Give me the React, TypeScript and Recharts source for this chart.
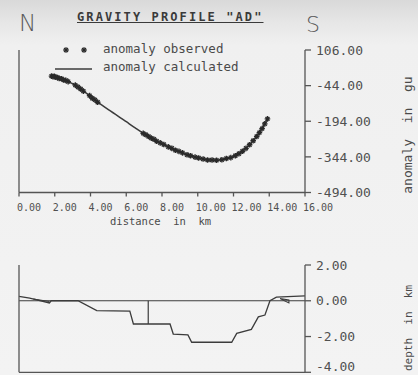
import React from 'react';
import { ComposedChart, Line, Scatter, XAxis, YAxis, ReferenceLine } from 'recharts';

const MONO = "'DejaVu Sans Mono', monospace";
const INK = '#3c3c3c';
const AX = '#555555';

const distanceTicks = [0, 2, 4, 6, 8, 10, 12, 14, 16];
const anomalyTicks = [106, -44, -194, -344, -494];
const depthTicks = [2, 0, -2, -4];

// calculated anomaly (gu) vs distance (km)
const calcKm = [1.8, 2.2, 2.6, 3.0, 3.4, 3.8, 4.2, 4.6, 5.0, 5.5, 6.0, 6.5, 7.0, 7.5, 8.0, 8.5, 9.0, 9.5, 10.0, 10.5, 11.0, 11.5, 12.0, 12.5, 13.0, 13.5, 13.95];
const calcGu = [-5, -12, -22, -36, -55, -78, -102, -124, -145, -170, -196, -222, -247, -269, -289, -307, -323, -337, -348, -356, -358, -354, -343, -320, -285, -236, -178];

// observed anomaly
const obsKm = [1.82, 1.9, 1.98, 2.06, 2.15, 2.25, 2.38, 2.5, 2.62, 2.75, 3.15, 3.3, 3.45, 3.6, 3.95, 4.1, 4.25, 4.4, 6.95, 7.1, 7.25, 7.4, 7.55, 7.7, 7.9, 8.1, 8.35, 8.55, 8.75, 8.95, 9.15, 9.4, 9.6, 9.85, 10.05, 10.3, 10.55, 10.8, 11.05, 11.35, 11.6, 11.85, 12.1, 12.3, 12.5, 12.7, 12.9, 13.1, 13.3, 13.45, 13.6, 13.75, 13.9];
const obsGu = [-4, -6, -5, -9, -10, -14, -15, -20, -22, -27, -42, -50, -58, -67, -86, -97, -104, -114, -245, -251, -258, -265, -270, -278, -285, -292, -302, -308, -316, -321, -327, -335, -339, -345, -349, -353, -357, -357, -358, -356, -351, -347, -339, -331, -320, -308, -293, -276, -258, -242, -225, -205, -184];

// model body base (depth km)
const baseKm = [0, 0.6, 1.7, 1.8, 3.3, 4.35, 6.2, 6.4, 8.45, 8.63, 9.45, 9.66, 11.9, 12.18, 13.0, 13.39, 13.76, 14.04, 14.4, 16];
const baseDepth = [0.25, 0.15, -0.12, 0, 0, -0.55, -0.58, -1.3, -1.3, -1.86, -1.91, -2.32, -2.32, -1.82, -1.6, -0.9, -0.8, 0, 0.2, 0.27];

const leftSliverKm = [0.8, 1.7];
const leftSliverDepth = [0.1, -0.04];
const rightSliverKm = [14.6, 15.1, 15.1, 14.6];
const rightSliverDepth = [0.12, 0.05, -0.12, 0.12];
const dividerKm = [7.23, 7.23];
const dividerDepth = [0, -1.3];

const zip = (xs: number[], ys: number[]) => xs.map((x, i) => ({ x, y: ys[i] }));
const calcData = zip(calcKm, calcGu);
const obsData = zip(obsKm, obsGu);
const baseData = zip(baseKm, baseDepth);
const leftSliver = zip(leftSliverKm, leftSliverDepth);
const rightSliver = zip(rightSliverKm, rightSliverDepth);
const divider = zip(dividerKm, dividerDepth);

const Star = (p: any) => {
  const { cx, cy } = p;
  const r = 2.8;
  return (
    <g stroke="#2a2a2a" strokeWidth={1.4}>
      <line x1={cx - r} y1={cy} x2={cx + r} y2={cy} />
      <line x1={cx} y1={cy - r} x2={cx} y2={cy + r} />
      <line x1={cx - r * 0.7} y1={cy - r * 0.7} x2={cx + r * 0.7} y2={cy + r * 0.7} />
      <line x1={cx - r * 0.7} y1={cy + r * 0.7} x2={cx + r * 0.7} y2={cy - r * 0.7} />
    </g>
  );
};

const XTick = (p: any) => (
  <text x={p.x - 2} y={p.y} dy="0.71em" textAnchor="start" fontFamily={MONO} fontSize={10} fill="#505050">
    {Number(p.payload.value).toFixed(2)}
  </text>
);

const YTick = (p: any) => (
  <text x={p.x} y={p.y} dy="0.36em" textAnchor="start" fontFamily={MONO} fontSize={13} fill="#505050">
    {Number(p.payload.value).toFixed(2)}
  </text>
);

// bottom tick at the very page edge is lifted slightly so it stays visible
const DepthTick = (p: any) => (
  <text
    x={p.x}
    y={p.y - (p.payload.value === -4 ? 6 : 0)}
    dy="0.36em"
    textAnchor="start"
    fontFamily={MONO}
    fontSize={13}
    fill="#505050"
  >
    {Number(p.payload.value).toFixed(2)}
  </text>
);

const txt = (extra: React.CSSProperties): React.CSSProperties => ({
  position: 'absolute',
  whiteSpace: 'pre',
  fontFamily: MONO,
  color: '#4a4a4a',
  lineHeight: 1,
  ...extra,
});

export default function App() {
  return (
    <div
      style={{
        position: 'absolute',
        left: 0,
        top: 0,
        width: 418,
        height: 375,
        overflow: 'hidden',
        background: 'linear-gradient(to bottom, #d9d9d9 0px, #e6e6e6 22px, #f0f0f0 45px, #f3f3f3 375px)',
      }}
    >
      <div style={{ position: 'absolute', left: 0, top: 0 }}>
        <ComposedChart width={418} height={230} margin={{ top: 50, right: 0, left: 18, bottom: 7.5 }}>
          <XAxis
            dataKey="x"
            type="number"
            domain={[0, 16]}
            ticks={distanceTicks}
            interval={0}
            tickSize={4}
            tickMargin={7}
            height={30}
            stroke={AX}
            strokeWidth={1.3}
            tick={<XTick />}
          />
          <YAxis
            yAxisId="l"
            orientation="left"
            width={1}
            dataKey="y"
            type="number"
            domain={[-494, 106]}
            allowDataOverflow
            ticks={anomalyTicks}
            interval={0}
            tick={false}
            tickSize={6}
            stroke={AX}
            strokeWidth={1.3}
          />
          <YAxis
            yAxisId="r"
            orientation="right"
            width={113}
            dataKey="y"
            type="number"
            domain={[-494, 106]}
            allowDataOverflow
            ticks={anomalyTicks}
            interval={0}
            tickSize={6}
            tickMargin={5}
            stroke={AX}
            strokeWidth={1.3}
            tick={<YTick />}
          />
          <Line
            yAxisId="l"
            data={calcData}
            dataKey="y"
            type="monotone"
            stroke={INK}
            strokeWidth={1.5}
            dot={false}
            isAnimationActive={false}
          />
          <Scatter yAxisId="r" data={obsData} dataKey="y" shape={Star} isAnimationActive={false} />
        </ComposedChart>
      </div>

      <div style={{ position: 'absolute', left: 0, top: 240 }}>
        <ComposedChart width={418} height={140} margin={{ top: 25, right: 0, left: 18, bottom: 6.7 }}>
          <XAxis
            dataKey="x"
            type="number"
            domain={[0, 16]}
            ticks={distanceTicks}
            tick={false}
            tickLine={false}
            height={1}
            stroke={AX}
            strokeWidth={1.3}
          />
          <YAxis
            yAxisId="l"
            orientation="left"
            width={1}
            dataKey="y"
            type="number"
            domain={[-4, 2]}
            allowDataOverflow
            ticks={depthTicks}
            interval={0}
            tick={false}
            tickSize={6}
            stroke={AX}
            strokeWidth={1.3}
          />
          <YAxis
            yAxisId="r"
            orientation="right"
            width={113}
            dataKey="y"
            type="number"
            domain={[-4, 2]}
            allowDataOverflow
            ticks={depthTicks}
            interval={0}
            tickSize={6}
            tickMargin={5}
            stroke={AX}
            strokeWidth={1.3}
            tick={<DepthTick />}
          />
          <ReferenceLine yAxisId="l" y={0} stroke={INK} strokeWidth={1.2} />
          <Line yAxisId="l" data={baseData} dataKey="y" type="linear" stroke={INK} strokeWidth={1.3} dot={false} isAnimationActive={false} />
          <Line yAxisId="r" data={leftSliver} dataKey="y" type="linear" stroke={INK} strokeWidth={1.1} dot={false} isAnimationActive={false} />
          <Line yAxisId="r" data={rightSliver} dataKey="y" type="linear" stroke={INK} strokeWidth={1.1} dot={false} isAnimationActive={false} />
          <Line yAxisId="r" data={divider} dataKey="y" type="linear" stroke={INK} strokeWidth={1.2} dot={false} isAnimationActive={false} />
        </ComposedChart>
      </div>

      {/* title and compass letters */}
      <div style={txt({ left: 77, top: 11, fontSize: 12, letterSpacing: 2.1, textDecoration: 'underline', color: '#3a3a3a', fontWeight: 'bold' })}>
        GRAVITY PROFILE "AD"
      </div>
      <div style={txt({ left: 19, top: 12, fontSize: 23, fontFamily: "'DejaVu Sans', sans-serif", color: '#5a5a5a', fontWeight: 300 })}>N</div>
      <div style={txt({ left: 306, top: 14, fontSize: 22, fontFamily: "'DejaVu Sans', sans-serif", color: '#5a5a5a', fontWeight: 300 })}>S</div>

      {/* legend */}
      <svg style={{ position: 'absolute', left: 0, top: 0 }} width={120} height={80}>
        <Star cx={66} cy={50} />
        <Star cx={84} cy={50} />
        <line x1={55} y1={69} x2={92} y2={69} stroke={INK} strokeWidth={1.4} />
      </svg>
      <div style={txt({ left: 103, top: 43, fontSize: 12.5 })}>anomaly observed</div>
      <div style={txt({ left: 103, top: 61, fontSize: 12.5 })}>anomaly calculated</div>

      {/* axis titles */}
      <div style={txt({ left: 110, top: 216, fontSize: 10.5 })}>distance  in  km</div>
      <div
        style={txt({
          left: 407,
          top: 135,
          fontSize: 13,
          transform: 'translate(-50%, -50%) rotate(-90deg)',
        })}
      >
        anomaly  in  gu
      </div>
      <div
        style={txt({
          left: 408,
          top: 328,
          fontSize: 11,
          transform: 'translate(-50%, -50%) rotate(-90deg)',
        })}
      >
        depth  in  km
      </div>
    </div>
  );
}
